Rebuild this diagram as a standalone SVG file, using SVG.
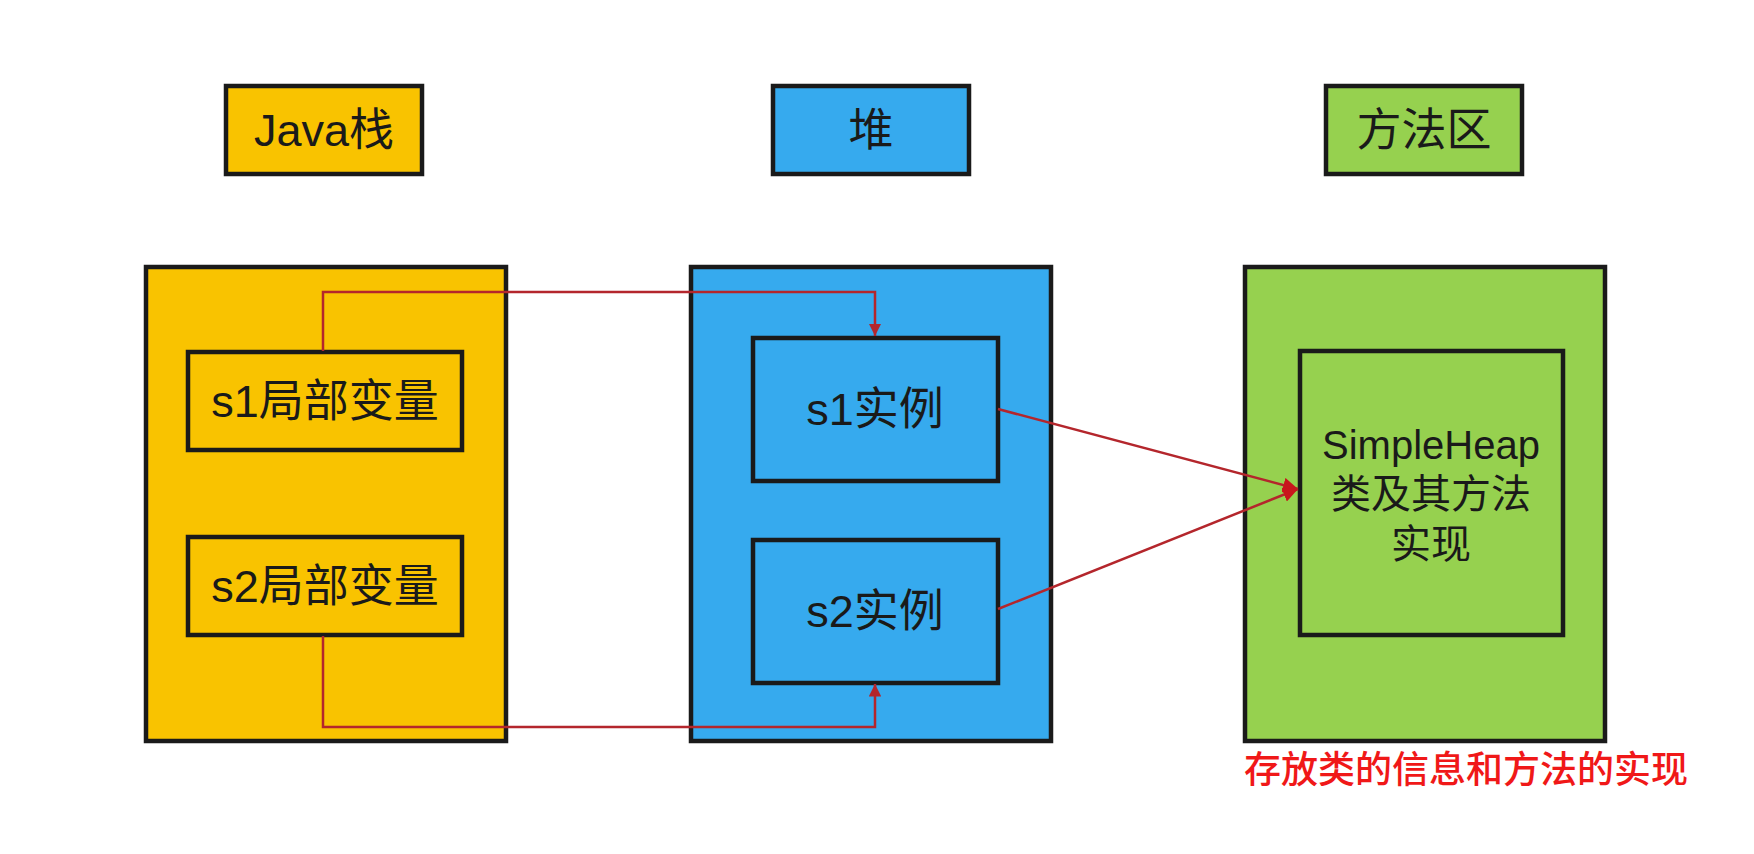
<svg xmlns="http://www.w3.org/2000/svg" width="1754" height="854" viewBox="0 0 1754 854">
<style>
.box{stroke:#1a1a1a;stroke-width:4.5}
.y{fill:#F9C300}
.b{fill:#36AAEE}
.g{fill:#96D14F}
.t{font-family:"Liberation Sans","Noto Sans CJK SC",sans-serif;font-size:45px;fill:#1a1a1a;text-anchor:middle}
.t.sm{font-size:40px}
.conn{fill:none;stroke:#B4262C;stroke-width:2.5}
.cap{font-family:"Liberation Sans","Noto Sans CJK SC",sans-serif;font-size:37px;font-weight:500;fill:#F01818;text-anchor:middle}
</style>
<defs>
<marker id="ah" viewBox="0 0 10 10" refX="10" refY="5" markerWidth="5" markerHeight="5" orient="auto" markerUnits="strokeWidth">
<path d="M0,0 L10,5 L0,10 z" fill="#B4262C"/>
</marker>
<marker id="ah2" viewBox="0 0 10 10" refX="10" refY="5" markerWidth="6" markerHeight="6" orient="auto" markerUnits="strokeWidth">
<path d="M0,0 L10,5 L0,10 z" fill="#C8161C"/>
</marker>
</defs>
<rect width="1754" height="854" fill="#ffffff"/>

<g id="hdr-stack"><rect class="box y" x="226" y="86" width="196" height="88"/><text class="t" x="324" y="146">Java栈</text></g>
<g id="hdr-heap"><rect class="box b" x="773" y="86" width="196" height="88"/><text class="t" x="871" y="146">堆</text></g>
<g id="hdr-method"><rect class="box g" x="1326" y="86" width="196" height="88"/><text class="t" x="1424" y="146">方法区</text></g>

<g id="stack"><rect class="box y" x="146" y="267" width="360" height="474"/></g>
<g id="s1var"><rect class="box y" x="188" y="352" width="274" height="98"/><text class="t" x="325" y="417">s1局部变量</text></g>
<g id="s2var"><rect class="box y" x="188" y="537" width="274" height="98"/><text class="t" x="325" y="602">s2局部变量</text></g>

<g id="heap"><rect class="box b" x="691" y="267" width="360" height="474"/></g>
<g id="s1inst"><rect class="box b" x="753" y="338" width="245" height="143"/><text class="t" x="875" y="425">s1实例</text></g>
<g id="s2inst"><rect class="box b" x="753" y="540" width="245" height="143"/><text class="t" x="875" y="627">s2实例</text></g>

<g id="method"><rect class="box g" x="1245" y="267" width="360" height="474"/></g>
<g id="simpleheap"><rect class="box g" x="1300" y="351" width="263" height="284"/>
<text class="t sm" x="1431" y="459">SimpleHeap</text>
<text class="t sm" x="1431" y="508">类及其方法</text>
<text class="t sm" x="1431" y="558">实现</text></g>

<g id="caption"><text class="cap" x="1466" y="783">存放类的信息和方法的实现</text></g>

<g id="connectors">
<path class="conn" d="M323,351 V292 H875 V336" marker-end="url(#ah)"/>
<path class="conn" d="M323,636 V727 H875 V684" marker-end="url(#ah)"/>
<path class="conn" d="M998,409 L1298,489" marker-end="url(#ah2)"/>
<path class="conn" d="M998,609 L1298,489" marker-end="url(#ah2)"/>
</g>
</svg>
